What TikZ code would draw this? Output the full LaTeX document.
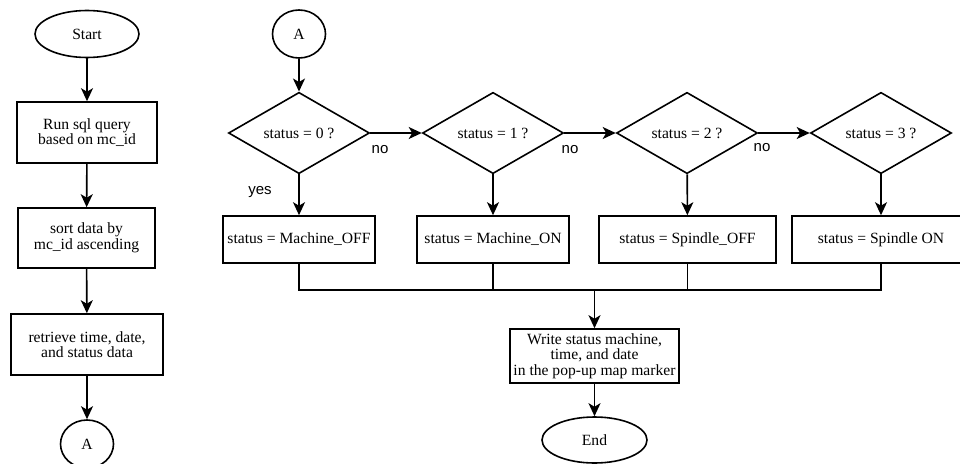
\documentclass[tikz,border=0pt]{standalone}
\usepackage{fontspec}
\setmainfont{Liberation Serif}
\newfontfamily\answerfont{Liberation Sans}
\usetikzlibrary{shapes.geometric,arrows.meta}

\begin{document}
\begin{tikzpicture}[
    x = 1pt, y = -1pt,
    line width = 1.6pt,
    font = \fontsize{15.6}{15.5}\selectfont,
    terminal/.style = {draw, ellipse, minimum width = 104pt, minimum height = 47pt, inner sep = 0pt},
    connector/.style = {draw, ellipse, minimum width = 53pt, minimum height = 48pt, inner sep = 0pt},
    process/.style = {draw, rectangle, align = center, inner sep = 0pt, minimum height = 61pt},
    decision/.style = {draw, diamond, minimum width = 141pt, minimum height = 61pt, inner sep = 0pt},
    setbox/.style = {draw, rectangle, inner sep = 0pt, minimum height = 47pt},
    flow/.style = {-{Stealth[length = 13pt, width = 12pt, inset = 3.5pt]}},
    answer/.style = {font = \answerfont\fontsize{15}{18}\selectfont}]

\clip (0,0) rectangle (960,463);

% left column
\node[terminal] (start) at (87,34) {Start};
\node[process, minimum width = 140pt] (query) at (87,132.5) {Run sql query\\based on mc\_id};
\node[process, minimum width = 137pt, minimum height = 60pt] (sort) at (86.5,238) {sort data by\\mc\_id ascending};
\node[process, minimum width = 152pt] (fetch) at (87,344.5) {retrieve time, date,\\and status data};
\node[connector] (connA) at (87,444) {A};

\draw[flow] (start) -- (query);
\draw[flow] (query) -- (sort);
\draw[flow] (sort) -- (fetch);
\draw[flow] (fetch) -- (connA);

% right part
\node[connector] (connB) at (299,34) {A};
\node[decision] (dec0) at (299,133) {status = 0 ?};
\node[decision] (dec1) at (493,133) {status = 1 ?};
\node[decision] (dec2) at (687,133) {status = 2 ?};
\node[decision] (dec3) at (881,133) {status = 3 ?};

\node[setbox, minimum width = 152pt] (set0) at (299,239.5) {status = Machine\_OFF};
\node[setbox, minimum width = 152pt] (set1) at (493,239.5) {status = Machine\_ON};
\node[setbox, minimum width = 177pt] (set2) at (687.5,239.5) {status = Spindle\_OFF};
\node[setbox, minimum width = 178pt] (set3) at (881,239.5) {status = Spindle ON};

\node[process, minimum width = 169pt, minimum height = 54pt] (write) at (594.5,356)
    {Write status machine,\\time, and date\\in the pop-up map marker};
\node[terminal, minimum width = 105pt, minimum height = 46pt] (stop) at (594.5,440) {End};

\coordinate (merge) at (594.5,290);

\draw[flow] (connB) -- (dec0);
\draw[flow] (dec0) -- (dec1);
\draw[flow] (dec1) -- (dec2);
\draw[flow] (dec2) -- (dec3);

\foreach \i in {0,...,3}
    \draw[flow] (dec\i) -- (set\i);

\draw (set0) -- (set0 |- merge) -- (set3 |- merge) -- (set3)
      (set1) -- (set1 |- merge)
      (set2) -- (set2 |- merge);
\draw[flow] (merge) -- (write);
\draw[flow] (write) -- (stop);

\node[answer] (no0) at (380,150) {no};
\node[answer] (no1) at (570,150) {no};
\node[answer] (no2) at (762,148) {no};
\node[answer] (yes0) at (260,192) {yes};
\end{tikzpicture}
\end{document}
